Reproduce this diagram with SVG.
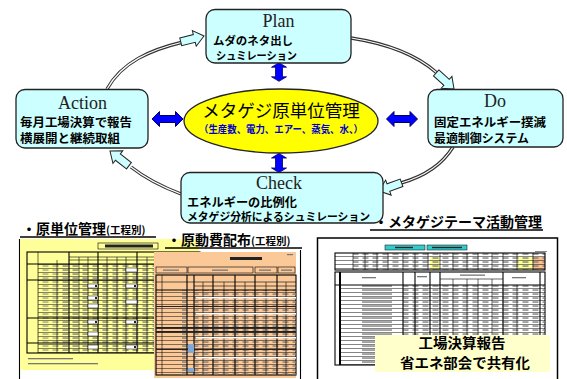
<svg xmlns="http://www.w3.org/2000/svg" xmlns:xlink="http://www.w3.org/1999/xlink" width="567" height="379" viewBox="0 0 567 379">
<style>
.box{fill:#CCFFFF;stroke:#222;stroke-width:1.3}
.ttl{font-family:"Liberation Serif",serif;font-size:18px;fill:#222;text-anchor:middle}
.jp{font-family:"Noto Sans CJK JP",sans-serif;font-weight:700;fill:#000}
.arcO{fill:none;stroke:#333;stroke-width:3.4}
.arcI{fill:none;stroke:#fff;stroke-width:1.2}
.bh{fill:#CCFFFF;stroke:#222;stroke-width:1}
.blue{fill:#0000FF;stroke:#000066;stroke-width:1}
.ul{stroke:#000;stroke-width:1.6}
.ln{stroke:#000;stroke-width:0.6;fill:none}
.lt{stroke:#000;stroke-width:1.1;fill:none}
.bar{fill:#222}
</style>
<defs>
<polygon id="bhead" points="-24,-4 -10,-4 -10,-8 0,0 -10,8 -10,4 -24,4"/>
<polygon id="dbl" points="-15.5,0 -8,-7.5 -8,-3.5 8,-3.5 8,-7.5 15.5,0 8,7.5 8,3.5 -8,3.5 -8,7.5"/>
<pattern id="r4" width="400" height="4" patternUnits="userSpaceOnUse"><line x1="0" y1="0.3" x2="400" y2="0.3" stroke="#000" stroke-width="0.6"/></pattern>
<pattern id="tx" width="10" height="4" patternUnits="userSpaceOnUse"><rect x="2.5" y="1.4" width="6" height="1.3" fill="#777"/></pattern>
<pattern id="txL" width="60" height="4" patternUnits="userSpaceOnUse"><rect x="2" y="1.4" width="30" height="1.3" fill="#777"/></pattern>
</defs>

<!-- bottom slides -->
<g id="slide-genka">
<rect x="19" y="239" width="180" height="145" fill="#fff"/>
<line x1="19.5" y1="239" x2="19.5" y2="379" class="lt"/>
<rect x="20" y="239" width="179" height="131" fill="#FFFF99"/>
<rect x="98" y="243" width="60" height="6" fill="none" class="ln"/>
<rect x="105" y="244.5" width="48" height="3" class="bar"/>
<rect x="27" y="252" width="173" height="101" fill="none" class="lt"/>
<rect x="38" y="264" width="162" height="89" fill="url(#r4)"/>
<rect x="57" y="264" width="143" height="89" fill="url(#tx)"/>
<rect x="38" y="264" width="19" height="89" fill="url(#tx)" opacity="0.7"/>
<g class="ln">
<line x1="69" y1="257" x2="200" y2="257"/><line x1="69" y1="260" x2="200" y2="260"/>
<line x1="38" y1="252" x2="38" y2="353"/><line x1="57" y1="260" x2="57" y2="353"/>
<line x1="79" y1="257" x2="79" y2="353"/><line x1="88" y1="257" x2="88" y2="353"/>
<line x1="107" y1="257" x2="107" y2="353"/><line x1="117" y1="257" x2="117" y2="353"/>
<line x1="126" y1="257" x2="126" y2="353"/><line x1="147" y1="257" x2="147" y2="353"/>
<line x1="157" y1="257" x2="157" y2="353"/><line x1="167" y1="257" x2="167" y2="353"/>
<line x1="177" y1="257" x2="177" y2="353"/><line x1="188" y1="257" x2="188" y2="353"/>
</g>
<g class="lt">
<line x1="27" y1="264" x2="200" y2="264"/><line x1="27" y1="280" x2="200" y2="280"/>
<line x1="27" y1="318" x2="200" y2="318"/><line x1="27" y1="343" x2="200" y2="343"/>
<line x1="69" y1="252" x2="69" y2="353"/><line x1="98" y1="252" x2="98" y2="353"/>
<line x1="137" y1="252" x2="137" y2="353"/>
</g>
<g fill="#fff" stroke="#000" stroke-width="0.5">
<rect x="88" y="284" width="10" height="4"/><rect x="88" y="296" width="10" height="4"/><rect x="88" y="304" width="10" height="4"/>
<rect x="88" y="320" width="10" height="4"/><rect x="88" y="332" width="10" height="4"/><rect x="88" y="345" width="10" height="4"/>
<rect x="126" y="268" width="11" height="4"/><rect x="126" y="284" width="11" height="4"/><rect x="126" y="300" width="11" height="4"/>
<rect x="126" y="320" width="11" height="4"/><rect x="126" y="345" width="11" height="4"/>
</g>
<g class="bar"><rect x="95" y="285" width="2" height="2"/><rect x="95" y="297" width="2" height="2"/><rect x="95" y="321" width="2" height="2"/><rect x="134" y="285" width="2" height="2"/><rect x="134" y="321" width="2" height="2"/><rect x="134" y="346" width="2" height="2"/></g>
<rect x="28" y="358" width="45" height="1.3" fill="#777"/>
<rect x="28" y="363" width="70" height="1.3" fill="#777"/>
</g>

<g id="slide-gendou">
<rect x="154" y="252" width="142" height="126" fill="#FBC898"/>
<line x1="300.5" y1="250" x2="300.5" y2="379" class="lt"/>
<rect x="230" y="257" width="32" height="3" class="bar"/>
<rect x="287" y="254" width="6" height="1.2" fill="#777"/>
<g fill="none" class="ln">
<rect x="156" y="267" width="31" height="6"/><rect x="188" y="267" width="65" height="6"/>
<rect x="255" y="267" width="22" height="6"/><rect x="278" y="267" width="17" height="6"/>
</g>
<g fill="#777"><rect x="163" y="269.5" width="16" height="1.3"/><rect x="212" y="269.5" width="16" height="1.3"/><rect x="259" y="269.5" width="12" height="1.3"/><rect x="281" y="269.5" width="11" height="1.3"/></g>
<rect x="156" y="275" width="140" height="100" fill="none" class="lt"/>
<rect x="156" y="290" width="140" height="85" fill="url(#r4)"/>
<rect x="194" y="290" width="102" height="85" fill="url(#tx)"/>
<rect x="162" y="290" width="25" height="85" fill="url(#txL)"/>
<g class="ln">
<line x1="156" y1="282" x2="296" y2="282"/><line x1="194" y1="286" x2="296" y2="286"/>
<line x1="162" y1="275" x2="162" y2="375"/><line x1="203" y1="282" x2="203" y2="375"/>
<line x1="224" y1="282" x2="224" y2="375"/><line x1="245" y1="282" x2="245" y2="375"/>
<line x1="266" y1="282" x2="266" y2="375"/><line x1="286" y1="282" x2="286" y2="375"/>
</g>
<g class="lt">
<line x1="156" y1="290" x2="296" y2="290"/>
<line x1="187" y1="275" x2="187" y2="375"/><line x1="194" y1="275" x2="194" y2="375"/>
<line x1="213" y1="275" x2="213" y2="375"/><line x1="235" y1="275" x2="235" y2="375"/>
<line x1="255" y1="275" x2="255" y2="375"/><line x1="277" y1="275" x2="277" y2="375"/>
</g>
<g fill="#fff"><rect x="196" y="297" width="100" height="1.5"/><rect x="196" y="313" width="100" height="1.5"/><rect x="196" y="337" width="100" height="1.5"/><rect x="196" y="357" width="100" height="1.5"/></g>
<g class="bar">
<rect x="156" y="327" width="140" height="1.8"/><rect x="156" y="331" width="140" height="1.8"/>
<rect x="156" y="306" width="140" height="1"/><rect x="156" y="349" width="140" height="1"/>
</g>
<g fill="#7FA7D8"><rect x="188" y="344" width="6" height="9"/><rect x="188" y="368" width="6" height="4"/></g>
</g>

<g id="slide-theme">
<rect x="317.5" y="238" width="240" height="146" fill="#fff" stroke="#000" stroke-width="1.5"/>
<rect x="385" y="245" width="40" height="5" fill="#33CCCC" stroke="#000" stroke-width="0.5"/>
<rect x="427" y="245" width="40" height="5" fill="#33CCCC" stroke="#000" stroke-width="0.5"/>
<rect x="395" y="246.8" width="18" height="1.4" class="bar"/><rect x="432" y="246.8" width="30" height="1.4" class="bar"/>
<rect x="535" y="251" width="12" height="1" fill="#888"/>
<rect x="430" y="257" width="10" height="13" fill="#FFFF99"/>
<rect x="517" y="257" width="16" height="13" fill="#FFFF99"/>
<rect x="533" y="257" width="12" height="13" fill="#FAC090"/>
<rect x="335" y="253" width="210" height="17" fill="url(#r4)"/>
<rect x="353" y="253" width="192" height="17" fill="url(#tx)"/>
<rect x="335" y="253" width="210" height="17" fill="none" class="lt"/>
<g class="ln">
<line x1="353" y1="253" x2="353" y2="270"/><line x1="365" y1="253" x2="365" y2="270"/><line x1="377" y1="253" x2="377" y2="270"/>
<line x1="388" y1="253" x2="388" y2="270"/><line x1="403" y1="253" x2="403" y2="270"/><line x1="415" y1="253" x2="415" y2="270"/>
<line x1="428" y1="253" x2="428" y2="270"/><line x1="440" y1="253" x2="440" y2="270"/><line x1="453" y1="253" x2="453" y2="270"/>
<line x1="467" y1="253" x2="467" y2="270"/><line x1="478" y1="253" x2="478" y2="270"/><line x1="492" y1="253" x2="492" y2="270"/>
<line x1="503" y1="253" x2="503" y2="270"/><line x1="517" y1="253" x2="517" y2="270"/><line x1="533" y1="253" x2="533" y2="270"/>
</g>
<rect x="335" y="272" width="210" height="93" fill="none" class="lt"/>
<rect x="340" y="285" width="205" height="80" fill="url(#r4)"/>
<rect x="343" y="285" width="60" height="80" fill="url(#txL)"/>
<rect x="403" y="285" width="142" height="80" fill="url(#tx)"/>
<g class="ln">
<line x1="440" y1="279" x2="503" y2="279"/>
<line x1="453" y1="279" x2="453" y2="365"/><line x1="467" y1="279" x2="467" y2="365"/><line x1="478" y1="279" x2="478" y2="365"/>
<line x1="492" y1="279" x2="492" y2="365"/><line x1="517" y1="285" x2="517" y2="365"/>
</g>
<g class="lt">
<line x1="335" y1="285" x2="545" y2="285"/>
<line x1="340" y1="272" x2="340" y2="365" stroke-width="2"/><line x1="403" y1="272" x2="403" y2="365"/>
<line x1="415" y1="272" x2="415" y2="365"/><line x1="430" y1="272" x2="430" y2="365"/><line x1="440" y1="272" x2="440" y2="365"/>
<line x1="503" y1="272" x2="503" y2="365"/><line x1="540" y1="272" x2="540" y2="365"/>
</g>
<g fill="#777"><rect x="362" y="277" width="14" height="1.3"/><rect x="417" y="276" width="10" height="1.3"/><rect x="460" y="274.5" width="25" height="1.3"/><rect x="512" y="277" width="14" height="1.3"/></g>
<rect x="375" y="335" width="175" height="37" fill="#FFFFCC"/>
<text x="462" y="348" class="jp" font-size="13.5" text-anchor="middle" textLength="87" lengthAdjust="spacingAndGlyphs">工場決算報告</text>
<text x="465" y="367.5" class="jp" font-size="13.5" text-anchor="middle" textLength="130" lengthAdjust="spacingAndGlyphs">省エネ部会で共有化</text>
</g>

<!-- section titles -->
<g id="title-genka">
<text x="22" y="234" class="jp" font-size="14">・原単位管理<tspan font-size="10.5">(工程別)</tspan></text>
<line x1="20" y1="237" x2="156" y2="237" class="ul"/>
</g>
<g id="title-gendou">
<text x="167" y="245" class="jp" font-size="14">・原動費配布<tspan font-size="10.5">(工程別)</tspan></text>
<line x1="165" y1="248" x2="302" y2="248" class="ul"/>
</g>
<g id="title-theme">
<text x="374" y="227" class="jp" font-size="14">・メタゲジテーマ活動管理</text>
<line x1="370" y1="230" x2="543" y2="230" class="ul"/>
</g>

<!-- connectors -->
<g id="connectors">
<path d="M107,89 C122,62 150,50 183,42" class="arcO"/><path d="M107,89 C122,62 150,50 183,42" class="arcI"/>
<use xlink:href="#bhead" class="bh" transform="translate(204,36) rotate(-14)"/>
<path d="M351,38 C390,44 418,56 437,73" class="arcO"/><path d="M351,38 C390,44 418,56 437,73" class="arcI"/>
<use xlink:href="#bhead" class="bh" transform="translate(454,89) rotate(42)"/>
<path d="M453,147 C442,165 422,177 401,183" class="arcO"/><path d="M453,147 C442,165 422,177 401,183" class="arcI"/>
<use xlink:href="#bhead" class="bh" transform="translate(379,191) rotate(160)"/>
<path d="M181,194 C160,186 145,178 131,167" class="arcO"/><path d="M181,194 C160,186 145,178 131,167" class="arcI"/>
<use xlink:href="#bhead" class="bh" transform="translate(110,151) rotate(-142)"/>
<use xlink:href="#dbl" class="blue" transform="translate(279,72) rotate(90) scale(0.6,1)"/>
<use xlink:href="#dbl" class="blue" transform="translate(279,163) rotate(90) scale(0.62,1)"/>
<use xlink:href="#dbl" class="blue" transform="translate(167.5,119)"/>
<use xlink:href="#dbl" class="blue" transform="translate(402,119)"/>
</g>

<g id="plan">
<rect x="206" y="9.5" width="145" height="53.5" rx="9" class="box"/>
<text x="278.5" y="27" class="ttl">Plan</text>
<text x="213" y="45" class="jp" font-size="11" textLength="80" lengthAdjust="spacingAndGlyphs">ムダのネタ出し</text>
<text x="216" y="60" class="jp" font-size="11" textLength="81" lengthAdjust="spacingAndGlyphs">シュミレーション</text>
</g>
<g id="action">
<rect x="16" y="89.5" width="132" height="58.5" rx="9" class="box"/>
<text x="82.5" y="109" class="ttl">Action</text>
<text x="20" y="126.5" class="jp" font-size="12" textLength="112" lengthAdjust="spacingAndGlyphs">毎月工場決算で報告</text>
<text x="20" y="143" class="jp" font-size="12" textLength="100" lengthAdjust="spacingAndGlyphs">横展開と継続取組</text>
</g>
<g id="do">
<rect x="428" y="89.5" width="135" height="57.5" rx="9" class="box"/>
<text x="495" y="107" class="ttl">Do</text>
<text x="434" y="127" class="jp" font-size="12" textLength="112" lengthAdjust="spacingAndGlyphs">固定エネルギー撲滅</text>
<text x="434" y="143" class="jp" font-size="12" textLength="95" lengthAdjust="spacingAndGlyphs">最適制御システム</text>
</g>
<g id="check">
<rect x="181" y="172.5" width="202" height="50.5" rx="9" class="box"/>
<text x="279" y="189" class="ttl">Check</text>
<text x="187" y="206.5" class="jp" font-size="12" textLength="110" lengthAdjust="spacingAndGlyphs">エネルギーの比例化</text>
<text x="187" y="221" class="jp" font-size="11" textLength="183" lengthAdjust="spacingAndGlyphs">メタゲジ分析によるシュミレーション</text>
</g>
<g id="center">
<ellipse cx="281" cy="121" rx="97" ry="32" fill="#FFFF00" stroke="#222" stroke-width="1.3"/>
<text x="281" y="117" font-family="Noto Sans CJK JP, sans-serif" font-size="17.5" fill="#000" text-anchor="middle">メタゲジ原単位管理</text>
<text x="281" y="133" class="jp" font-size="10" text-anchor="middle" textLength="164" lengthAdjust="spacingAndGlyphs" style="fill:#0000CC">（生産数、電力、エアー、蒸気、水、）</text>
</g>
</svg>
